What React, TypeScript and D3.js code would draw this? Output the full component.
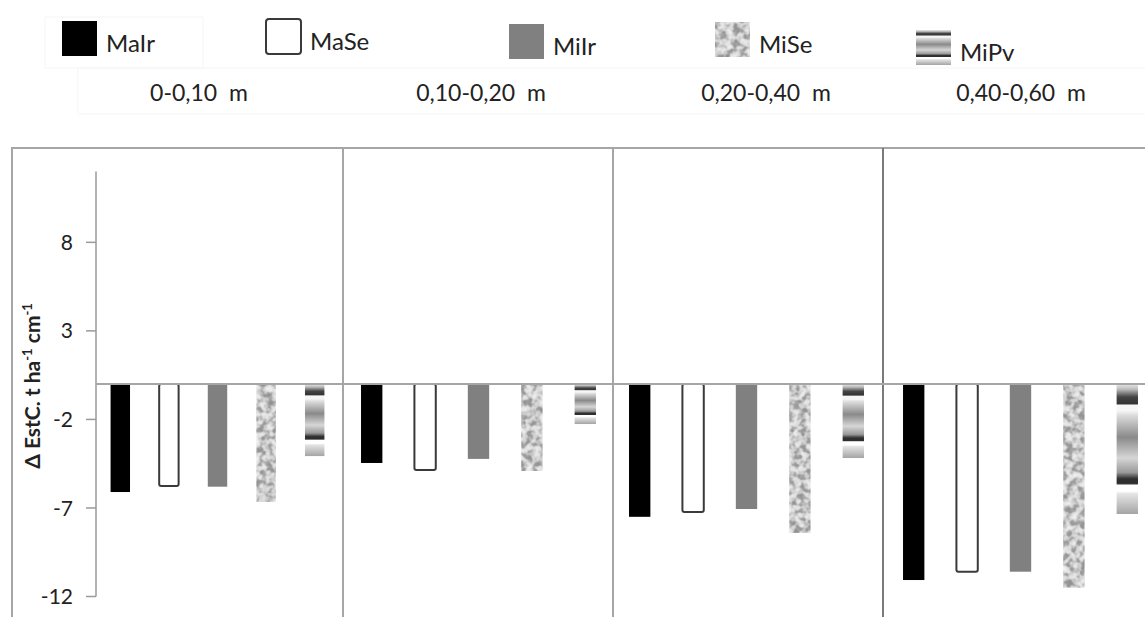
import React from "react";
import * as d3 from "d3";

// depth layers (one panel each)
const depths = ["0-0,10 m", "0,10-0,20 m", "0,20-0,40 m", "0,40-0,60 m"];
const seriesNames = ["MaIr", "MaSe", "MiIr", "MiSe", "MiPv"];

// Δ EstC per series, one value per depth
const maIr = [-6.1, -4.46, -7.5, -11.07];
const maSe = [-5.76, -4.86, -7.23, -10.6];
const miIr = [-5.8, -4.23, -7.06, -10.6];
const miSe = [-6.66, -4.91, -8.41, -11.5];
const miPv = [-4.07, -2.26, -4.18, -7.34];

const yTicks = [8, 3, -2, -7, -12];

const W = 1145;
const H = 617;
const FONT = "Lato, 'Open Sans', sans-serif";

// panel plot ranges in px
const panelRanges: [number, number][] = [
  [96, 339],
  [345, 612],
  [613, 880],
  [887, 1154],
];
const panelLines = [343, 613, 883];
const legendX = [62, 266, 509, 715, 916];
const legendY = [21, 19, 24, 22, 30];

const fills = ["#000", "#fff", "#808080", "url(#granite)", "url(#stripes)"];

export default function App() {
  const all = [maIr, maSe, miIr, miSe, miPv];
  const y = d3.scaleLinear().domain([-12, 12]).range([596.5, 171.5]);

  const styleFor = (i: number) => {
    if (i === 1) return { fill: "#fff", stroke: "#3a3a3a", strokeWidth: 2 };
    if (i === 3) return { fill: "#c4c4c4", filter: "url(#granite)" };
    return { fill: fills[i] };
  };

  // grey levels for the granite texture
  const tbl = "0.28 0.28 0.3 0.38 0.6 0.75 0.83 0.88 0.9";

  return (
    <svg
      width={W}
      height={H}
      style={{ position: "absolute", left: 0, top: 0, background: "#fff" }}
      fontFamily={FONT}
    >
      <defs>
        <linearGradient id="stripes" x1="0" y1="0" x2="0" y2="1">
          <stop offset="0" stopColor="#e8e8e8" />
          <stop offset="0.04" stopColor="#bdbdbd" />
          <stop offset="0.1" stopColor="#444" />
          <stop offset="0.15" stopColor="#333" />
          <stop offset="0.165" stopColor="#f6f6f6" />
          <stop offset="0.205" stopColor="#f6f6f6" />
          <stop offset="0.24" stopColor="#dcdcdc" />
          <stop offset="0.41" stopColor="#8a8a8a" />
          <stop offset="0.57" stopColor="#d6d6d6" />
          <stop offset="0.68" stopColor="#9a9a9a" />
          <stop offset="0.73" stopColor="#2e2e2e" />
          <stop offset="0.765" stopColor="#2e2e2e" />
          <stop offset="0.78" stopColor="#fff" />
          <stop offset="0.825" stopColor="#fff" />
          <stop offset="0.845" stopColor="#e4e4e4" />
          <stop offset="1" stopColor="#a4a4a4" />
        </linearGradient>
        <filter id="granite" x="0" y="0" width="1" height="1">
          <feTurbulence type="fractalNoise" baseFrequency="0.15" numOctaves="2" seed="7" result="n" />
          <feColorMatrix
            in="n"
            type="matrix"
            values="1 0 0 0 0  1 0 0 0 0  1 0 0 0 0  0 0 0 0 1"
            result="g"
          />
          <feComponentTransfer in="g" result="c">
            <feFuncR type="table" tableValues={tbl} />
            <feFuncG type="table" tableValues={tbl} />
            <feFuncB type="table" tableValues={tbl} />
          </feComponentTransfer>
          <feComposite in="c" in2="SourceAlpha" operator="in" />
        </filter>
      </defs>

      {/* faint header boxes */}
      <rect x={45} y={17} width={158} height={51} fill="none" stroke="#f6f6f6" />
      <rect x={78} y={68} width={1080} height={46} fill="none" stroke="#f6f6f6" />

      {/* legend */}
      {seriesNames.map((s, i) => (
        <g key={s}>
          <rect
            x={legendX[i]}
            y={legendY[i]}
            width={35}
            height={35}
            rx={i === 1 ? 3 : 0}
            {...styleFor(i)}
          />
          <text
            x={legendX[i] + 44}
            y={legendY[i] + 31}
            fontSize={24}
            fill="#222"
          >
            {s}
          </text>
        </g>
      ))}

      {/* depth labels */}
      {depths.map((d, p) => (
        <text
          key={d}
          x={[199, 481, 766, 1021][p]}
          y={101}
          fontSize={23}
          fill="#222"
          textAnchor="middle"
          style={{ whiteSpace: "pre" }}
        >
          {d.replace(" m", "  m")}
        </text>
      ))}

      {/* chart frame */}
      <line x1={12} x2={W} y1={148} y2={148} stroke="#a6a6a6" strokeWidth={2} />
      <line x1={12} x2={12} y1={147} y2={H} stroke="#a6a6a6" strokeWidth={2} />
      {panelLines.map((x, i) => (
        <line
          key={x}
          x1={x}
          x2={x}
          y1={148}
          y2={H}
          stroke={i === 2 ? "#7a7a7a" : "#a6a6a6"}
          strokeWidth={2}
        />
      ))}

      {/* y axis */}
      <line x1={96} x2={96} y1={y(12)} y2={y(-12)} stroke="#9a9a9a" strokeWidth={1.5} />
      {yTicks.map((t) => (
        <g key={t}>
          <line x1={86} x2={96} y1={y(t)} y2={y(t)} stroke="#9a9a9a" strokeWidth={1.5} />
          <text
            x={73}
            y={y(t)}
            dy="0.36em"
            textAnchor="end"
            fontSize={21}
            fill="#222"
          >
            {t}
          </text>
        </g>
      ))}
      <text
        transform={`translate(40,386) rotate(-90)`}
        textAnchor="middle"
        fontSize={21}
        fontWeight="bold"
        fill="#222"
      >
        Δ EstC. t ha
        <tspan dy={-8} fontSize={13}>-1</tspan>
        <tspan dy={8}> cm</tspan>
        <tspan dy={-8} fontSize={13}>-1</tspan>
      </text>

      {/* bars */}
      {depths.map((d, p) => {
        const x = d3
          .scaleBand()
          .domain(seriesNames)
          .range(panelRanges[p])
          .paddingInner(0.6)
          .paddingOuter(0.3);
        return (
          <g key={d}>
            {seriesNames.map((s, i) => {
              const v = all[i][p];
              return (
                <rect
                  key={s}
                  x={x(s)}
                  y={y(0)}
                  width={x.bandwidth()}
                  height={y(v) - y(0)}
                  rx={i === 1 ? 2 : 0}
                  {...styleFor(i)}
                />
              );
            })}
          </g>
        );
      })}

      {/* zero line */}
      <line x1={96} x2={W} y1={y(0)} y2={y(0)} stroke="#a6a6a6" strokeWidth={2} />
    </svg>
  );
}
